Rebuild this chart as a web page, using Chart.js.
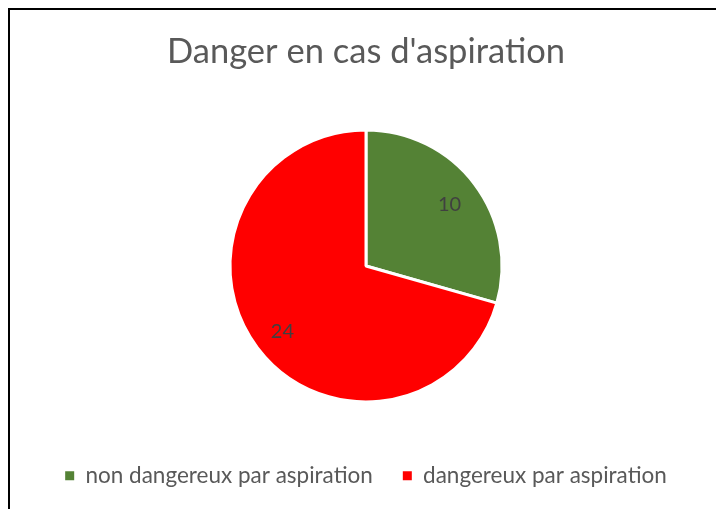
<!DOCTYPE html>
<html>
<head>
<meta charset="utf-8">
<script src="https://cdn.jsdelivr.net/npm/chart.js@4"></script>
<style>
  html,body{margin:0;padding:0;background:#fff;overflow:hidden;}
  .frame{position:absolute;left:8px;top:8px;width:760px;height:560px;border:2px solid #000;box-sizing:border-box;}
  .wrap{position:absolute;left:8px;top:8px;width:716px;height:509px;}
</style>
</head>
<body>
<div class="frame"></div>
<div class="wrap"><canvas id="pie" width="716" height="509"></canvas></div>
<script>
const titleText = "Danger en cas d'aspiration";
const categories = ["non dangereux par aspiration", "dangereux par aspiration"];
const values = [10, 24];
const colors = ["#548235", "#FF0000"];

const FONT = "Lato, 'Open Sans', sans-serif";

// draws the value inside each slice, like the spreadsheet data labels
const sliceLabels = {
  id: "sliceLabels",
  afterDatasetsDraw(chart){
    const ctx = chart.ctx;
    const meta = chart.getDatasetMeta(0);
    ctx.save();
    ctx.font = "20px " + FONT;
    ctx.fillStyle = "#404040";
    ctx.textAlign = "center";
    ctx.textBaseline = "middle";
    meta.data.forEach((arc,i)=>{
      const p = arc.getProps(["x","y","startAngle","endAngle","outerRadius"], true);
      const mid = (p.startAngle + p.endAngle)/2;
      const r = p.outerRadius*0.77;
      ctx.fillText(String(values[i]), p.x + Math.cos(mid)*r, p.y + Math.sin(mid)*r + 2);
    });
    ctx.restore();
  }
};

const baseLabels = Chart.overrides.pie.plugins.legend.labels.generateLabels;

new Chart(document.getElementById("pie"), {
  type: "pie",
  data: {
    labels: categories,
    datasets: [{
      data: values,
      backgroundColor: colors,
      borderColor: "#ffffff",
      borderWidth: 3,
      hoverOffset: 0,
      radius: 136
    }]
  },
  options: {
    responsive: false,
    animation: false,
    layout: { padding: { bottom: 20 } },
    plugins: {
      title: {
        display: true,
        text: titleText,
        color: "#595959",
        font: { family: FONT, size: 34.5, weight: "normal" },
        padding: { top: 23, bottom: 25 }
      },
      legend: {
        position: "bottom",
        labels: {
          color: "#595959",
          font: { family: FONT, size: 22.5 },
          boxWidth: 9,
          boxHeight: 9,
          padding: 30,
          generateLabels(chart){
            return baseLabels(chart).map(l => Object.assign(l, { lineWidth: 0 }));
          }
        }
      },
      tooltip: { enabled: false }
    }
  },
  plugins: [sliceLabels]
});
</script>
</body>
</html>
